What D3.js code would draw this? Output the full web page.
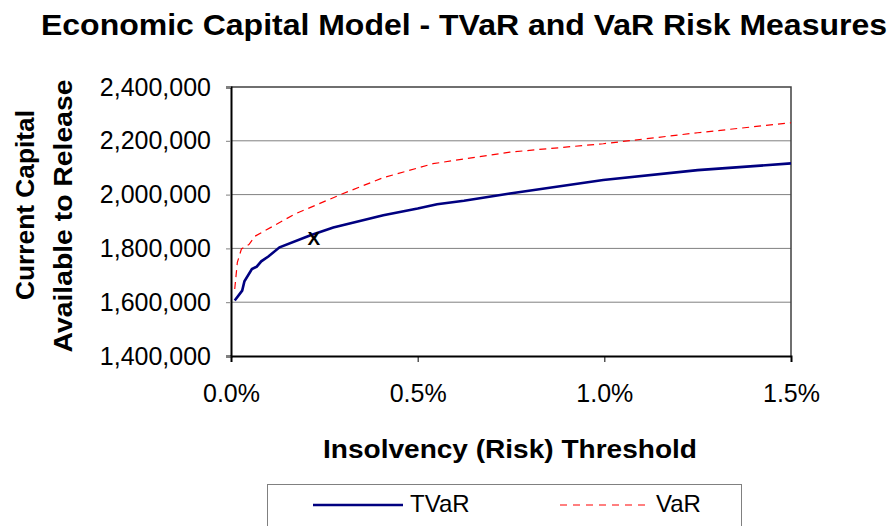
<!DOCTYPE html>
<meta charset="utf-8">
<script src="https://d3js.org/d3.v7.min.js"></script>
<style>
  body { margin: 0; background: #fff; }
  text { font-family: "Liberation Sans", Arial, sans-serif; }
</style>
<div id="chart"></div>
<script>
    // threshold (as fraction) and capital values
    const tvarX = [0.0001, 0.0003, 0.00036, 0.00056, 0.00069, 0.00081, 0.0010, 0.0013, 0.00213, 0.00274, 0.00408, 0.0050, 0.00552, 0.00624, 0.00747, 0.00997, 0.0125, 0.0150];
    const tvarY = [1606000, 1643000, 1678000, 1723000, 1732000, 1752000, 1770000, 1804000, 1849000, 1878000, 1923000, 1948000, 1964000, 1977000, 2004000, 2054000, 2091000, 2116000];
    const varX = [0.0001, 0.00017, 0.00028, 0.00048, 0.00064, 0.0017, 0.00295, 0.00408, 0.00541, 0.00747, 0.00997, 0.0125, 0.0150];
    const varY = [1649000, 1748000, 1798000, 1814000, 1845000, 1927000, 2001000, 2063000, 2115000, 2158000, 2189000, 2230000, 2267000];
    const markerPoint = [0.00222, 1836000];
    const yTicks = [1400000, 1600000, 1800000, 2000000, 2200000, 2400000];
    const xTicks = [0, 0.005, 0.01, 0.015];

    const W = 894, H = 526;
    const plot = { left: 231, right: 791, top: 87, bottom: 356 };

    const svg = d3.select("#chart").append("svg")
        .attr("width", W).attr("height", H);

    const x = d3.scaleLinear().domain([0, 0.015]).range([plot.left, plot.right]);
    const y = d3.scaleLinear().domain([1400000, 2400000]).range([plot.bottom, plot.top]);

    // fit a text to a given width
    function fit(sel, w) {
        sel.attr("textLength", w).attr("lengthAdjust", "spacingAndGlyphs");
    }

    // gridlines
    svg.append("g").selectAll("line")
        .data(yTicks.slice(1, -1))
        .join("line")
        .attr("x1", plot.left).attr("x2", plot.right)
        .attr("y1", d => y(d)).attr("y2", d => y(d))
        .attr("stroke", "#808080").attr("stroke-width", 1);

    // top and right border
    svg.append("path")
        .attr("d", `M${plot.left},${plot.top}H${plot.right}V${plot.bottom}`)
        .attr("fill", "none").attr("stroke", "#404040").attr("stroke-width", 1.5);

    // y axis
    const yAxis = svg.append("g")
        .attr("transform", `translate(${plot.left},0)`)
        .call(d3.axisLeft(y).tickValues(yTicks).tickFormat(d3.format(",")).tickSize(5).tickPadding(15));
    yAxis.select(".domain").attr("stroke", "#000").attr("stroke-width", 2);
    yAxis.selectAll(".tick line").attr("stroke", "#808080");
    yAxis.selectAll("text").attr("font-size", 25).attr("fill", "#000")
        .attr("font-family", "Liberation Sans, Arial, sans-serif");

    // x axis
    const xAxis = svg.append("g")
        .attr("transform", `translate(0,${plot.bottom})`)
        .call(d3.axisBottom(x).tickValues(xTicks).tickFormat(d3.format(".1%")).tickSize(6).tickPadding(22));
    xAxis.select(".domain").attr("stroke", "#000").attr("stroke-width", 2);
    xAxis.selectAll(".tick line").attr("stroke", "#000");
    xAxis.selectAll("text").attr("font-size", 25).attr("fill", "#000")
        .attr("font-family", "Liberation Sans, Arial, sans-serif");

    const line = d3.line().x(d => x(d[0])).y(d => y(d[1]));

    svg.append("path")
        .datum(varX.map((v, i) => [v, varY[i]]))
        .attr("fill", "none").attr("stroke", "#ff0000").attr("stroke-width", 1.2)
        .attr("stroke-dasharray", "7,5")
        .attr("d", line);

    svg.append("path")
        .datum(tvarX.map((v, i) => [v, tvarY[i]]))
        .attr("fill", "none").attr("stroke", "#000080").attr("stroke-width", 2.6)
        .attr("d", line);

    // the "x" marker
    svg.append("text")
        .attr("x", x(markerPoint[0])).attr("y", y(markerPoint[1]) + 6)
        .attr("text-anchor", "middle")
        .attr("font-family", "Liberation Serif, Times New Roman, serif")
        .attr("font-weight", "bold").attr("font-size", 19)
        .text("X");

    // title
    svg.append("text")
        .attr("x", 464).attr("y", 35).attr("text-anchor", "middle")
        .attr("font-weight", "bold").attr("font-size", 30)
        .text("Economic Capital Model - TVaR and VaR Risk Measures")
        .call(fit, 846);

    // axis titles
    svg.append("text")
        .attr("x", 510).attr("y", 458).attr("text-anchor", "middle")
        .attr("font-weight", "bold").attr("font-size", 25)
        .text("Insolvency (Risk) Threshold")
        .call(fit, 374);

    const yl = svg.append("g").attr("transform", "rotate(-90)");
    yl.append("text").attr("x", -205).attr("y", 34).attr("text-anchor", "middle")
        .attr("font-weight", "bold").attr("font-size", 25).text("Current Capital").call(fit, 190);
    yl.append("text").attr("x", -216).attr("y", 72).attr("text-anchor", "middle")
        .attr("font-weight", "bold").attr("font-size", 25).text("Available to Release").call(fit, 273);

    // legend
    const lg = svg.append("g");
    lg.append("rect").attr("x", 267.5).attr("y", 484.5).attr("width", 474).attr("height", 60)
        .attr("fill", "#fff").attr("stroke", "#808080");
    lg.append("line").attr("x1", 313).attr("x2", 403).attr("y1", 505).attr("y2", 505)
        .attr("stroke", "#000080").attr("stroke-width", 2.4);
    lg.append("text").attr("x", 410).attr("y", 512).attr("font-size", 24).text("TVaR");
    lg.append("line").attr("x1", 560).attr("x2", 647).attr("y1", 505).attr("y2", 505)
        .attr("stroke", "#ff0000").attr("stroke-width", 1.2).attr("stroke-dasharray", "7,6");
    lg.append("text").attr("x", 656).attr("y", 512).attr("font-size", 24).text("VaR");
</script>
